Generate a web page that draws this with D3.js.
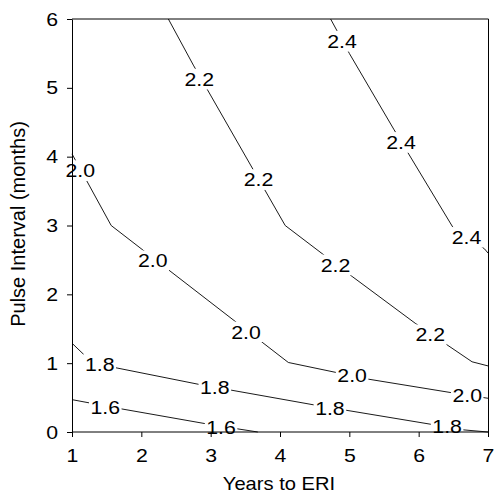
<!DOCTYPE html>
<html>
<head>
<meta charset="utf-8">
<script src="https://cdn.jsdelivr.net/npm/d3@7"></script>
<style>
  body { margin: 0; background: #fff; }
  svg { display: block; }
  text { font-family: "Liberation Sans", Arial, sans-serif; }
</style>
</head>
<body>
<svg id="chart"></svg>
<script>
let width = 494;
let height = 493;

// axis ticks
const xTicks = [1, 2, 3, 4, 5, 6, 7];
const yTicks = [0, 1, 2, 3, 4, 5, 6];

// contour lines, [years, months]
const line16 = [[1, 0.47], [1.69, 0.34], [2.93, 0.12], [3.36, 0.05], [3.68, 0]];
const line18 = [[1, 1.29], [1.3, 1.0], [2.84, 0.69], [4.51, 0.39], [6.19, 0.11], [6.6, 0.035], [7, 0]];
const line20 = [[1, 4.04], [1.565, 3.0], [4.12, 1.01], [5.26, 0.77], [6.48, 0.57], [7, 0.49]];
const line22 = [[2.39, 6], [2.75, 5.33], [4.075, 3.0], [5.04, 2.26], [5.95, 1.58], [6.77, 1.02], [7, 0.96]];
const line24 = [[4.73, 6], [5.0, 5.5], [5.64, 4.4], [6.49, 2.98], [6.95, 2.66], [7, 2.6]];

// where the level labels sit
const labels16 = [[1.48, 0.36], [3.15, 0.07]];
const labels18 = [[1.40, 0.99], [3.06, 0.65], [4.72, 0.34], [6.41, 0.08]];
const labels20 = [[1.12, 3.8], [2.165, 2.49], [3.51, 1.456], [5.04, 0.825], [6.70, 0.54]];
const labels22 = [[2.836, 5.13], [3.69, 3.67], [4.80, 2.43], [6.167, 1.414]];
const labels24 = [[4.894, 5.68], [5.745, 4.21], [6.69, 2.83]];

const levels = ["1.6", "1.8", "2.0", "2.2", "2.4"];
const contourLines = [line16, line18, line20, line22, line24];
const contourLabels = [labels16, labels18, labels20, labels22, labels24];

const stretch = 1.12; // glyphs look a bit wide in the original
const fontSize = 19;

let svg = d3.select("#chart")
  .attr("width", width)
  .attr("height", height);

let x = d3.scaleLinear().domain([1, 7]).range([72, 488]);
let y = d3.scaleLinear().domain([0, 6]).range([432, 19]);

let line = d3.line()
  .x(d => x(d[0]))
  .y(d => y(d[1]));

// contour lines
contourLines.forEach(pts => {
  svg.append("path")
    .datum(pts)
    .attr("fill", "none")
    .attr("stroke", "#000")
    .attr("stroke-width", 0.9)
    .attr("d", line);
});

// labels with a white gap under them
contourLabels.forEach((pts, i) => {
  pts.forEach(p => {
    let g = svg.append("g")
      .attr("transform", `translate(${x(p[0])},${y(p[1])})`);
    let rect = g.append("rect").attr("fill", "#fff");
    let t = g.append("text")
      .attr("text-anchor", "middle")
      .attr("y", 6.8)
      .attr("transform", `scale(${stretch},1)`)
      .attr("font-size", fontSize)
      .attr("fill", "#000")
      .text(levels[i]);
    let bb = t.node().getBBox();
    let w = bb.width * stretch;
    rect.attr("x", -w / 2 - 1.5)
      .attr("y", bb.y)
      .attr("width", w + 3)
      .attr("height", bb.height);
  });
});

// axes
let xAxis = svg.append("g")
  .attr("transform", `translate(0,${y(0)})`)
  .call(d3.axisBottom(x).tickValues(xTicks).tickFormat(d3.format("d"))
    .tickSize(5).tickSizeOuter(0).tickPadding(11.5));
xAxis.select(".domain").remove();
xAxis.selectAll("text")
  .attr("font-size", fontSize)
  .attr("font-family", "Liberation Sans, Arial, sans-serif")
  .attr("fill", "#000")
  .attr("transform", `scale(${stretch},1)`);

let yAxis = svg.append("g")
  .attr("transform", `translate(${x(1)},0)`)
  .call(d3.axisLeft(y).tickValues(yTicks).tickFormat(d3.format("d"))
    .tickSize(5).tickSizeOuter(0).tickPadding(7.5));
yAxis.selectAll("text")
  .attr("font-size", fontSize)
  .attr("font-family", "Liberation Sans, Arial, sans-serif")
  .attr("fill", "#000")
  .attr("transform", `scale(${stretch},1)`);

// frame: bottom, top and right
svg.append("line")
  .attr("x1", x(1)).attr("x2", x(7) + 0.5)
  .attr("y1", y(0)).attr("y2", y(0))
  .attr("stroke", "#000");
svg.append("line")
  .attr("x1", x(1)).attr("x2", x(7) + 0.5)
  .attr("y1", y(6)).attr("y2", y(6))
  .attr("stroke", "#000");
svg.append("line")
  .attr("x1", x(7) + 0.5).attr("x2", x(7) + 0.5)
  .attr("y1", y(6)).attr("y2", y(0))
  .attr("stroke", "#000");

// titles
svg.append("text")
  .attr("transform", `translate(279,489.5) scale(${stretch},1)`)
  .attr("text-anchor", "middle")
  .attr("font-size", 18)
  .text("Years to ERI");

svg.append("text")
  .attr("transform", "translate(25,224) rotate(-90)")
  .attr("text-anchor", "middle")
  .attr("font-size", 20)
  .text("Pulse Interval (months)");
</script>
</body>
</html>
